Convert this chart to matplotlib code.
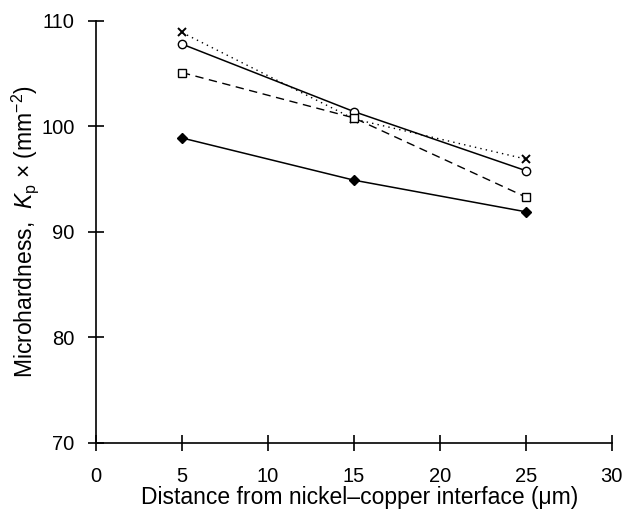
import matplotlib
matplotlib.use("Agg")
import matplotlib.pyplot as plt

plt.rcParams['font.family'] = ['Liberation Sans', 'DejaVu Sans']
plt.rcParams['mathtext.fontset'] = 'custom'
plt.rcParams['mathtext.rm'] = 'Liberation Sans'
plt.rcParams['mathtext.it'] = 'Liberation Sans:italic'

distance = [5, 15, 25]
series_cross = [108.9, 100.7, 96.9]
series_circle = [107.8, 101.4, 95.8]
series_square = [105.1, 100.8, 93.3]
series_diamond = [98.9, 94.9, 91.9]

fig = plt.figure(figsize=(6.4, 5.09), dpi=100)
ax = fig.add_axes([0.15, 0.13, 0.806, 0.829])

ax.plot(distance, series_cross, color='black', linestyle=(0, (1, 3)), lw=1.0,
        marker='x', ms=6, mew=1.4)
ax.plot(distance, series_circle, color='black', linestyle='-', lw=1.1,
        marker='o', ms=6, mfc='white', mew=1.0)
ax.plot(distance, series_square, color='black', linestyle=(0, (6, 4)), lw=1.0,
        marker='s', ms=6, mfc='white', mew=1.0)
ax.plot(distance, series_diamond, color='black', linestyle='-', lw=1.1,
        marker='D', ms=5, mfc='black', mew=1.0)

ax.set_xlim(0, 30)
ax.set_ylim(70, 110)
ax.set_xticks([0, 5, 10, 15, 20, 25, 30])
ax.set_yticks([70, 80, 90, 100, 110])
for s in ['top', 'right']:
    ax.spines[s].set_visible(False)
for s in ['left', 'bottom']:
    ax.spines[s].set_linewidth(1.2)
ax.tick_params(direction='inout', length=11, width=1.2, labelsize=14.5)
ax.tick_params(axis='x', pad=12)
ax.tick_params(axis='y', pad=10)

ax.set_xlabel('Distance from nickel\u2013copper interface (\u03bcm)', fontsize=16.5)
ax.set_ylabel('Microhardness,  $K_\\mathrm{p}$ \u00d7 (mm$^{-2}$)', fontsize=16.5)
ax.xaxis.set_label_coords(0.512, -0.102)
ax.yaxis.set_label_coords(-0.106, 0.5)

fig.savefig('out.png', dpi=100)
